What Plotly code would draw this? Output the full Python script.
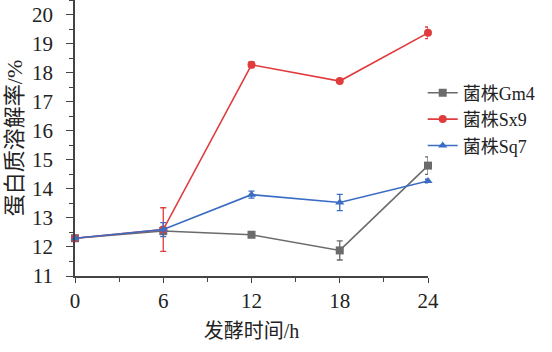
import plotly.graph_objects as go

times = [0, 6, 12, 18, 24]
gm4 = [12.3, 12.55, 12.42, 11.88, 14.8]
gm4_err = [0.05, 0.12, 0.05, 0.33, 0.3]
sx9 = [12.3, 12.6, 18.27, 17.71, 19.37]
sx9_err = [0.05, 0.75, 0.1, 0.05, 0.2]
sq7 = [12.3, 12.6, 13.8, 13.53, 14.27]
sq7_err = [0.05, 0.24, 0.12, 0.28, 0.06]

names = ["菌株Gm4", "菌株Sx9", "菌株Sq7"]
colors = ["#6b6b6b", "#e03c3e", "#3a6cc4"]
symbols = ["square", "circle", "triangle-up"]

font_fam = "Liberation Serif, Times New Roman, Noto Sans CJK SC, serif"

fig = go.Figure()
for name, ys, errs, c, s in zip(names, [gm4, sx9, sq7], [gm4_err, sx9_err, sq7_err], colors, symbols):
    fig.add_trace(go.Scatter(
        x=times, y=ys, name=name, mode="lines+markers",
        line=dict(color=c, width=1.6),
        marker=dict(symbol=s, size=8, color=c),
        error_y=dict(type="data", array=errs, visible=True, color=c, thickness=1.3, width=3),
        cliponaxis=False,
    ))

fig.update_layout(
    width=552, height=352,
    margin=dict(l=75, r=124, t=0, b=76),
    paper_bgcolor="white", plot_bgcolor="white",
    font=dict(family=font_fam, size=18, color="#222"),
    showlegend=True,
    legend=dict(x=0.985, y=0.73, xanchor="left", yanchor="top",
                font=dict(size=18, family=font_fam, color="#222"),
                bgcolor="rgba(0,0,0,0)", tracegroupgap=0, itemwidth=30),
    xaxis=dict(
        range=[0, 24], tickvals=times, ticktext=[str(t) for t in times],
        showline=True, linecolor="#444", linewidth=1.5,
        ticks="outside", ticklen=5, tickcolor="#444", tickwidth=1.2,
        minor=dict(dtick=3, ticks="outside", ticklen=4, tickcolor="#444", tickwidth=1),
        showgrid=False, zeroline=False,
        tickfont=dict(size=21, family=font_fam, color="#222"),
        title=dict(text="发酵时间/h", font=dict(size=20, family=font_fam, color="#222"), standoff=12),
    ),
    yaxis=dict(
        range=[11, 20.5], dtick=1, tick0=11,
        showline=True, linecolor="#444", linewidth=1.5,
        ticks="outside", ticklen=7, tickcolor="#444", tickwidth=1.2,
        minor=dict(dtick=0.5, ticks="outside", ticklen=4, tickcolor="#444", tickwidth=1),
        showgrid=False, zeroline=False,
        ticklabelstandoff=9,
        tickfont=dict(size=21, family=font_fam, color="#222"),
        title=dict(text="蛋白质溶解率/%", font=dict(size=22, family=font_fam, color="#222"), standoff=3),
    ),
)

fig.write_html("out.html")
